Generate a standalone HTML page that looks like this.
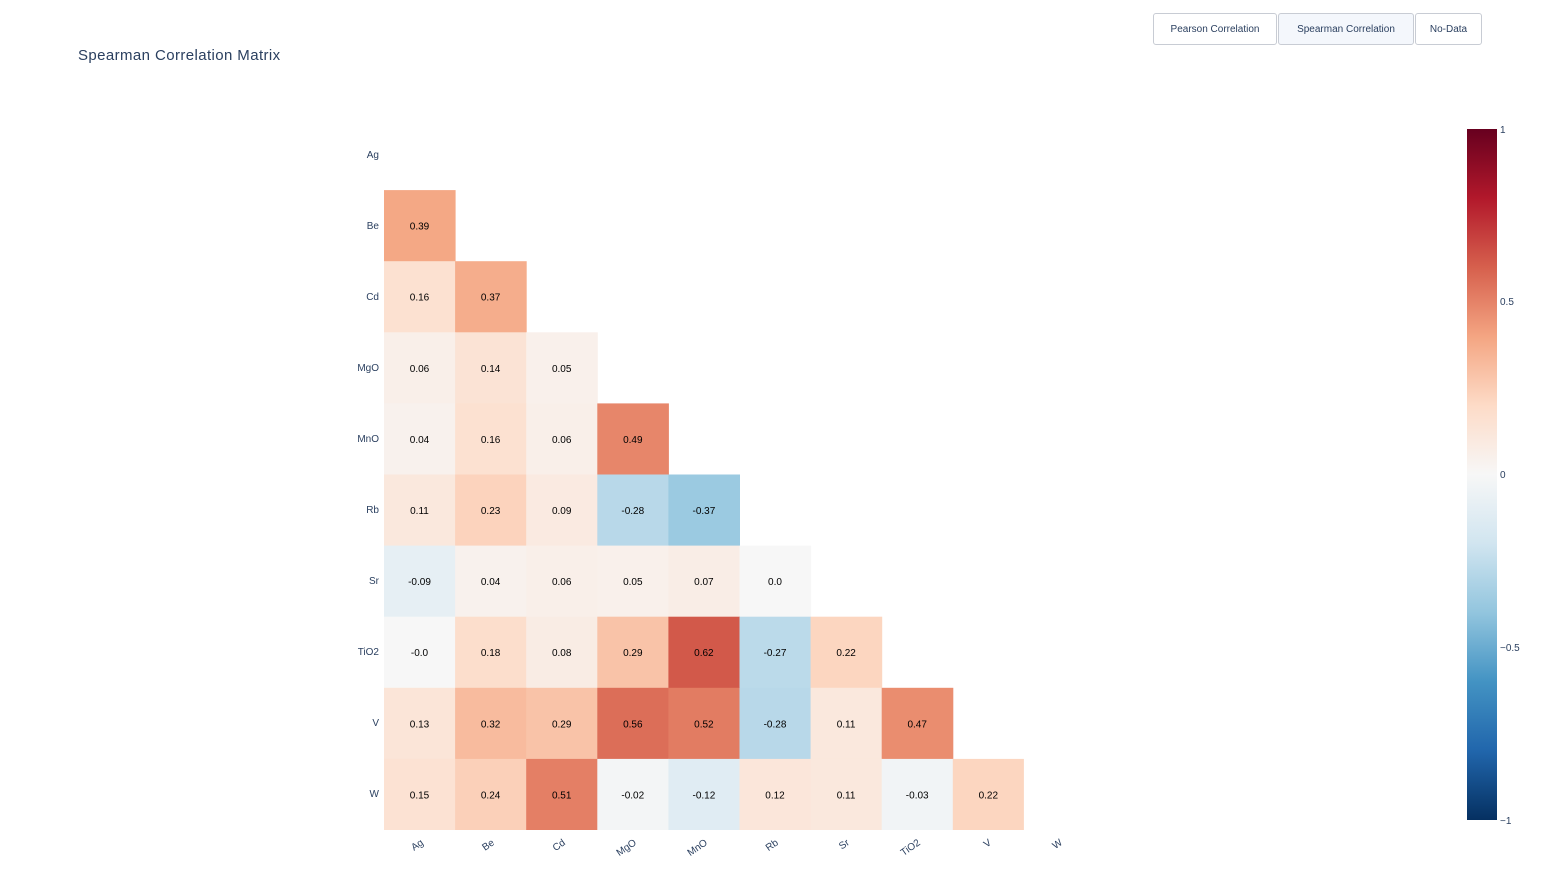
<!DOCTYPE html>
<html><head><meta charset="utf-8"><style>
body{margin:0;background:#fff;width:1543px;height:880px;overflow:hidden;font-family:"Liberation Sans","DejaVu Sans",sans-serif}
.btn{position:absolute;top:13px;height:32px;border:1px solid #c8ccd4;border-radius:3px;background:#fff;font-size:10px;color:#2a3f5f;display:flex;align-items:center;justify-content:center;box-sizing:border-box}
</style></head><body>
<div class="btn" style="left:1153px;width:124px">Pearson Correlation</div>
<div class="btn" style="left:1278px;width:136px;background:#f4f7fc">Spearman Correlation</div>
<div class="btn" style="left:1415px;width:67px">No-Data</div>
<svg width="1543" height="880" style="position:absolute;left:0;top:0;pointer-events:none">
<defs><linearGradient id="g" x1="0" y1="1" x2="0" y2="0">
<stop offset="0" stop-color="rgb(5,48,97)"/><stop offset="0.1" stop-color="rgb(33,102,172)"/><stop offset="0.2" stop-color="rgb(67,147,195)"/><stop offset="0.3" stop-color="rgb(146,197,222)"/><stop offset="0.4" stop-color="rgb(209,229,240)"/><stop offset="0.5" stop-color="rgb(247,247,247)"/><stop offset="0.6" stop-color="rgb(253,219,199)"/><stop offset="0.7" stop-color="rgb(244,165,130)"/><stop offset="0.8" stop-color="rgb(214,96,77)"/><stop offset="0.9" stop-color="rgb(178,24,43)"/><stop offset="1" stop-color="rgb(103,0,31)"/>
</linearGradient></defs>
<text x="78" y="60" font-size="15" fill="#2a3f5f" letter-spacing="0.4">Spearman Correlation Matrix</text>
<g font-size="10" fill="#2a3f5f" text-anchor="end">
<text x="379" y="158">Ag</text><text x="379" y="229">Be</text><text x="379" y="300">Cd</text><text x="379" y="371">MgO</text><text x="379" y="442">MnO</text><text x="379" y="513">Rb</text><text x="379" y="584">Sr</text><text x="379" y="655">TiO2</text><text x="379" y="726">V</text><text x="379" y="797">W</text>
</g>
<g font-size="10" fill="#2a3f5f" text-anchor="end">
<text transform="translate(424,844) rotate(-35)">Ag</text>
<text transform="translate(495,844) rotate(-35)">Be</text>
<text transform="translate(566,844) rotate(-35)">Cd</text>
<text transform="translate(637,844) rotate(-35)">MgO</text>
<text transform="translate(708,844) rotate(-35)">MnO</text>
<text transform="translate(779,844) rotate(-35)">Rb</text>
<text transform="translate(850,844) rotate(-35)">Sr</text>
<text transform="translate(921,844) rotate(-35)">TiO2</text>
<text transform="translate(992,844) rotate(-35)">V</text>
<text transform="translate(1063,844) rotate(-35)">W</text>
</g>
<g font-size="10" fill="#000" text-anchor="middle">
<g transform="translate(384,190.1)">
<rect x="0" width="71.6" height="71.6" fill="rgb(244,168,133)"/><text x="35.5" y="39.5">0.39</text>
</g>
<g transform="translate(384,261.2)">
<rect x="0" width="71.6" height="71.6" fill="rgb(252,225,209)"/><text x="35.5" y="39.5">0.16</text>
<rect x="71.1" width="71.6" height="71.6" fill="rgb(245,173,140)"/><text x="106.6" y="39.5">0.37</text>
</g>
<g transform="translate(384,332.3)">
<rect x="0" width="71.6" height="71.6" fill="rgb(249,239,233)"/><text x="35.5" y="39.5">0.06</text>
<rect x="71.1" width="71.6" height="71.6" fill="rgb(251,227,213)"/><text x="106.6" y="39.5">0.14</text>
<rect x="142.2" width="71.6" height="71.6" fill="rgb(249,240,235)"/><text x="177.7" y="39.5">0.05</text>
</g>
<g transform="translate(384,403.4)">
<rect x="0" width="71.6" height="71.6" fill="rgb(248,241,237)"/><text x="35.5" y="39.5">0.04</text>
<rect x="71.1" width="71.6" height="71.6" fill="rgb(252,225,209)"/><text x="106.6" y="39.5">0.16</text>
<rect x="142.2" width="71.6" height="71.6" fill="rgb(249,239,233)"/><text x="177.7" y="39.5">0.06</text>
<rect x="213.3" width="71.6" height="71.6" fill="rgb(231,134,106)"/><text x="248.8" y="39.5">0.49</text>
</g>
<g transform="translate(384,474.5)">
<rect x="0" width="71.6" height="71.6" fill="rgb(250,232,221)"/><text x="35.5" y="39.5">0.11</text>
<rect x="71.1" width="71.6" height="71.6" fill="rgb(252,211,189)"/><text x="106.6" y="39.5">0.23</text>
<rect x="142.2" width="71.6" height="71.6" fill="rgb(250,234,225)"/><text x="177.7" y="39.5">0.09</text>
<rect x="213.3" width="71.6" height="71.6" fill="rgb(184,216,233)"/><text x="248.8" y="39.5">-0.28</text>
<rect x="284.4" width="71.6" height="71.6" fill="rgb(155,202,225)"/><text x="319.9" y="39.5">-0.37</text>
</g>
<g transform="translate(384,545.6)">
<rect x="0" width="71.6" height="71.6" fill="rgb(230,239,244)"/><text x="35.5" y="39.5">-0.09</text>
<rect x="71.1" width="71.6" height="71.6" fill="rgb(248,241,237)"/><text x="106.6" y="39.5">0.04</text>
<rect x="142.2" width="71.6" height="71.6" fill="rgb(249,239,233)"/><text x="177.7" y="39.5">0.06</text>
<rect x="213.3" width="71.6" height="71.6" fill="rgb(249,240,235)"/><text x="248.8" y="39.5">0.05</text>
<rect x="284.4" width="71.6" height="71.6" fill="rgb(249,237,230)"/><text x="319.9" y="39.5">0.07</text>
<rect x="355.5" width="71.6" height="71.6" fill="rgb(247,247,247)"/><text x="391" y="39.5">0.0</text>
</g>
<g transform="translate(384,616.7)">
<rect x="0" width="71.6" height="71.6" fill="rgb(247,247,247)"/><text x="35.5" y="39.5">-0.0</text>
<rect x="71.1" width="71.6" height="71.6" fill="rgb(252,222,204)"/><text x="106.6" y="39.5">0.18</text>
<rect x="142.2" width="71.6" height="71.6" fill="rgb(249,236,228)"/><text x="177.7" y="39.5">0.08</text>
<rect x="213.3" width="71.6" height="71.6" fill="rgb(249,195,168)"/><text x="248.8" y="39.5">0.29</text>
<rect x="284.4" width="71.6" height="71.6" fill="rgb(210,89,74)"/><text x="319.9" y="39.5">0.62</text>
<rect x="355.5" width="71.6" height="71.6" fill="rgb(187,218,234)"/><text x="391" y="39.5">-0.27</text>
<rect x="426.6" width="71.6" height="71.6" fill="rgb(252,214,192)"/><text x="462.1" y="39.5">0.22</text>
</g>
<g transform="translate(384,687.8)">
<rect x="0" width="71.6" height="71.6" fill="rgb(251,229,216)"/><text x="35.5" y="39.5">0.13</text>
<rect x="71.1" width="71.6" height="71.6" fill="rgb(248,187,158)"/><text x="106.6" y="39.5">0.32</text>
<rect x="142.2" width="71.6" height="71.6" fill="rgb(249,195,168)"/><text x="177.7" y="39.5">0.29</text>
<rect x="213.3" width="71.6" height="71.6" fill="rgb(220,110,88)"/><text x="248.8" y="39.5">0.56</text>
<rect x="284.4" width="71.6" height="71.6" fill="rgb(226,124,98)"/><text x="319.9" y="39.5">0.52</text>
<rect x="355.5" width="71.6" height="71.6" fill="rgb(184,216,233)"/><text x="391" y="39.5">-0.28</text>
<rect x="426.6" width="71.6" height="71.6" fill="rgb(250,232,221)"/><text x="462.1" y="39.5">0.11</text>
<rect x="497.7" width="71.6" height="71.6" fill="rgb(234,141,111)"/><text x="533.2" y="39.5">0.47</text>
</g>
<g transform="translate(384,758.9)">
<rect x="0" width="71.6" height="71.1" fill="rgb(252,226,211)"/><text x="35.5" y="39.5">0.15</text>
<rect x="71.1" width="71.6" height="71.1" fill="rgb(251,208,185)"/><text x="106.6" y="39.5">0.24</text>
<rect x="142.2" width="71.6" height="71.1" fill="rgb(228,127,101)"/><text x="177.7" y="39.5">0.51</text>
<rect x="213.3" width="71.6" height="71.1" fill="rgb(243,245,246)"/><text x="248.8" y="39.5">-0.02</text>
<rect x="284.4" width="71.6" height="71.1" fill="rgb(224,236,243)"/><text x="319.9" y="39.5">-0.12</text>
<rect x="355.5" width="71.6" height="71.1" fill="rgb(251,230,218)"/><text x="391" y="39.5">0.12</text>
<rect x="426.6" width="71.6" height="71.1" fill="rgb(250,232,221)"/><text x="462.1" y="39.5">0.11</text>
<rect x="497.7" width="71.6" height="71.1" fill="rgb(241,244,246)"/><text x="533.2" y="39.5">-0.03</text>
<rect x="568.8" width="71.1" height="71.1" fill="rgb(252,214,192)"/><text x="604.3" y="39.5">0.22</text>
</g>
</g>
<rect x="1467" y="129" width="30" height="691" fill="url(#g)"/>
<g font-size="10" fill="#2a3f5f">
<text x="1500" y="133">1</text>
<text x="1500" y="305">0.5</text>
<text x="1500" y="478">0</text>
<text x="1500" y="651">−0.5</text>
<text x="1500" y="824">−1</text>
</g>
</svg>
</body></html>
